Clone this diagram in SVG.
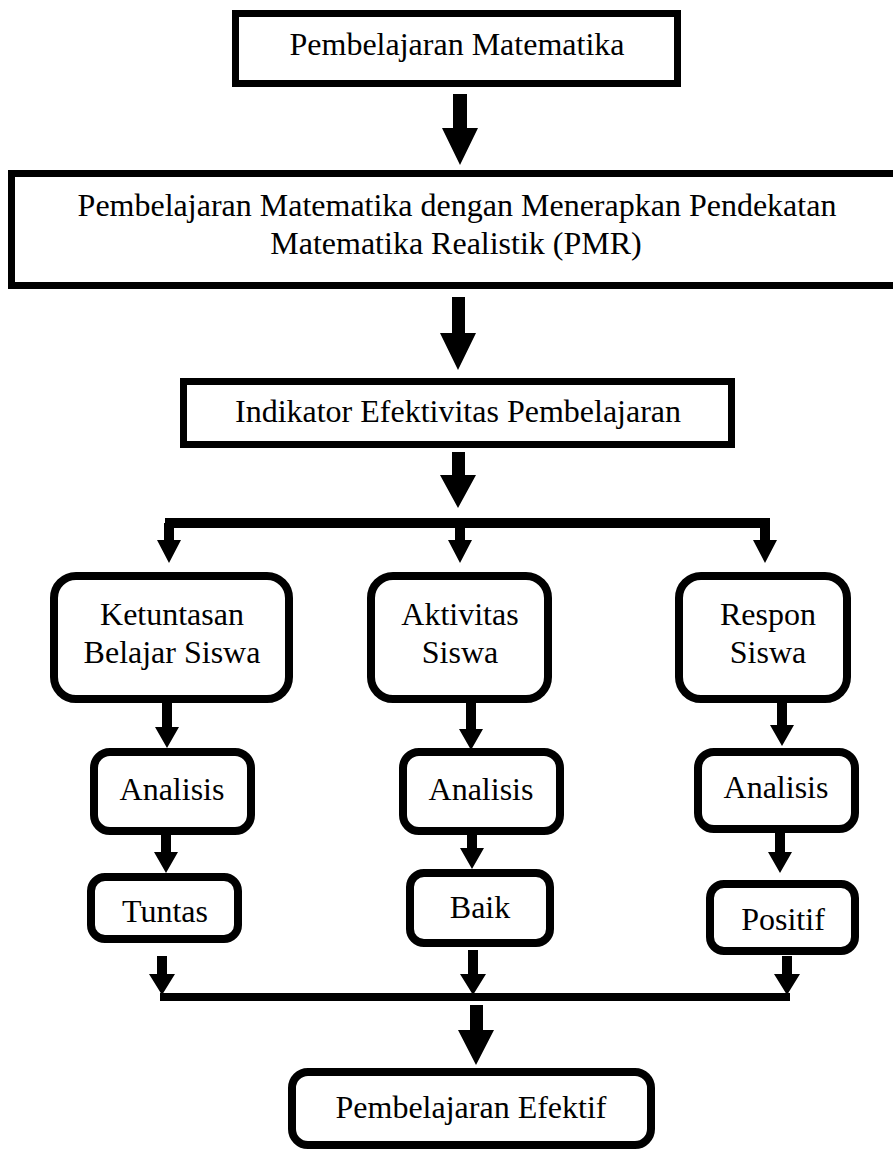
<svg xmlns="http://www.w3.org/2000/svg" width="893" height="1151" viewBox="0 0 893 1151">
<style>
.box{fill:#fff;stroke:#000;stroke-width:7}
.rbox{fill:#fff;stroke:#000;stroke-width:8}
.t{font-family:"Liberation Serif","Times New Roman",serif;font-size:32px;fill:#000;text-anchor:middle}
.c{fill:#000;stroke:none}
</style>
<rect width="893" height="1151" fill="#fff"/>
<g id="connectors">
<polygon class="c" points="453,94 467,94 467,128 478,128 460,165 442,128 453,128"/>
<polygon class="c" points="452,297 465,297 465,333 476,333 458,370 440,333 452,333"/>
<polygon class="c" points="452,452 465,452 465,475 476,475 458,508 440,475 452,475"/>
<polygon class="c" points="165,518 769,518 769,528 165,528"/>
<polygon class="c" points="164,523 174,523 174,540 181,540 169,563 157,540 164,540"/>
<polygon class="c" points="455,523 465,523 465,540 472,540 460,563 448,540 455,540"/>
<polygon class="c" points="760,518 770,518 770,540 777,540 765,563 753,540 760,540"/>
<polygon class="c" points="162,700 172,700 172,727 179,727 167,748 155,727 162,727"/>
<polygon class="c" points="466,700 476,700 476,729 483,729 471,750 459,729 466,729"/>
<polygon class="c" points="777,700 787,700 787,725 794,725 782,746 770,725 777,725"/>
<polygon class="c" points="161,832 171,832 171,852 178,852 166,873 154,852 161,852"/>
<polygon class="c" points="467,832 477,832 477,848 484,848 472,869 460,848 467,848"/>
<polygon class="c" points="775,830 785,830 785,852 792,852 780,873 768,852 775,852"/>
<polygon class="c" points="157,956 167,956 167,974 175,974 162,995 149,974 157,974"/>
<polygon class="c" points="468,950 478,950 478,974 486,974 473,995 460,974 468,974"/>
<polygon class="c" points="782,956 792,956 792,974 800,974 787,995 774,974 782,974"/>
<polygon class="c" points="160,993 790,993 790,1001 160,1001"/>
<polygon class="c" points="470,1005 483,1005 483,1030 494,1030 476,1065 458,1030 470,1030"/>
</g>
<g id="n1"><rect class="box" x="235.5" y="13.5" width="442" height="70"/><text class="t" x="457" y="55">Pembelajaran Matematika</text></g>
<g id="n2"><rect class="box" x="11.5" y="173.5" width="900" height="112"/><text class="t" x="457" y="216">Pembelajaran Matematika dengan Menerapkan Pendekatan</text><text class="t" x="456" y="254">Matematika Realistik (PMR)</text></g>
<g id="n3"><rect class="box" x="183.5" y="381.5" width="548" height="63"/><text class="t" x="458" y="422">Indikator Efektivitas Pembelajaran</text></g>
<g id="n4"><rect class="rbox" x="54" y="576" width="235" height="123" rx="22"/><text class="t" x="172" y="625">Ketuntasan</text><text class="t" x="172" y="663">Belajar Siswa</text></g>
<g id="n5"><rect class="rbox" x="371" y="576" width="177" height="123" rx="22"/><text class="t" x="460" y="625">Aktivitas</text><text class="t" x="460" y="663">Siswa</text></g>
<g id="n6"><rect class="rbox" x="679" y="576" width="168" height="123" rx="22"/><text class="t" x="768" y="625">Respon</text><text class="t" x="768" y="663">Siswa</text></g>
<g id="n7"><rect class="rbox" x="94" y="752" width="157" height="79" rx="16"/><text class="t" x="172" y="800">Analisis</text></g>
<g id="n8"><rect class="rbox" x="403" y="752" width="157" height="79" rx="16"/><text class="t" x="481" y="800">Analisis</text></g>
<g id="n9"><rect class="rbox" x="698" y="752" width="157" height="77" rx="16"/><text class="t" x="776" y="798">Analisis</text></g>
<g id="n10"><rect class="rbox" x="91" y="877" width="147" height="62" rx="14"/><text class="t" x="165" y="922">Tuntas</text></g>
<g id="n11"><rect class="rbox" x="410" y="873" width="140" height="70" rx="14"/><text class="t" x="480" y="918">Baik</text></g>
<g id="n12"><rect class="rbox" x="710" y="884" width="145" height="67" rx="14"/><text class="t" x="783" y="930">Positif</text></g>
<g id="n13"><rect class="rbox" x="292" y="1072" width="359" height="73" rx="16"/><text class="t" x="471" y="1118">Pembelajaran Efektif</text></g>
</svg>
